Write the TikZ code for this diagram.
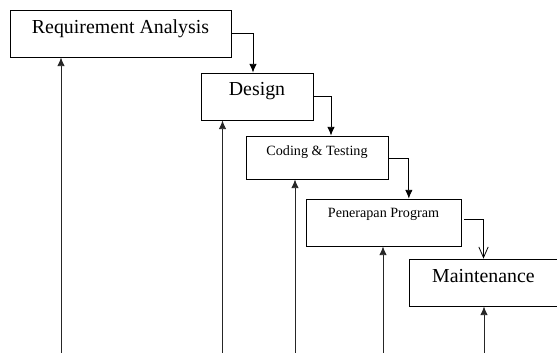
\documentclass[tikz,border=0pt]{standalone}
\usepackage{fontspec}
\setmainfont{Liberation Serif}
\usetikzlibrary{arrows.meta}

\begin{document}
\begin{tikzpicture}[x=0.75pt,y=-0.75pt,
    box/.style={draw,line width=0.6pt,inner sep=0pt,align=center},
    big/.style={font=\fontsize{14.9}{17}\selectfont},
    small/.style={font=\fontsize{10.6}{12}\selectfont},
    flow/.style={line width=0.6pt,-{Latex[length=6.5pt,width=5.5pt]}},
    openflow/.style={line width=0.6pt,-{Straight Barb[length=8pt,width=7pt]}},
    upline/.style={draw=black!85,line width=0.6pt,-{Latex[length=6.5pt,width=5.5pt]}}]
            \useasboundingbox (0,0) rectangle (557,353);
            \clip (0,0) rectangle (557,353);
            \node[box,big,minimum width=165.75pt,text height=18pt,text depth=17.25pt] (req) at (120.5,33.5) {Requirement Analysis};
            \node[box,big,minimum width=84pt,text height=17.25pt,text depth=18pt] (des) at (257,96.5) {Design};
            \node[box,small,minimum width=106.5pt,text height=14.25pt,text depth=18pt] (cod) at (317,157.5) {Coding \& Testing};
            \node[box,small,minimum width=116.25pt,text height=13.5pt,text depth=21.75pt] (pen) at (383.5,222.5) {Penerapan Program};
            \node[box,big,minimum width=111.75pt,text height=17.25pt,text depth=18pt] (mai) at (483.5,282.5) {Maintenance};
            \draw[flow] (req.east) -| ([xshift=-3pt]des.north);
            \draw[flow] (des.east) -| ([xshift=10.5pt]cod.north);
            \draw[flow] ([yshift=-1pt]cod.east) -| ([xshift=19pt]pen.north);
            \draw[openflow] ([xshift=2.25pt,yshift=2pt]pen.east) -| (mai.north);
            \coordinate (b1) at (61,356);
            \coordinate (b2) at (222.5,356);
            \coordinate (b3) at (295,356);
            \coordinate (b4) at (383,356);
            \coordinate (b5) at (484,356);
            \draw[upline] (b1) -- (b1 |- req.south);
            \draw[upline] (b2) -- (b2 |- des.south);
            \draw[upline] (b3) -- (b3 |- cod.south);
            \draw[upline] (b4) -- (b4 |- pen.south);
            \draw[upline] (b5) -- (b5 |- mai.south);
        \end{tikzpicture}
\end{document}
